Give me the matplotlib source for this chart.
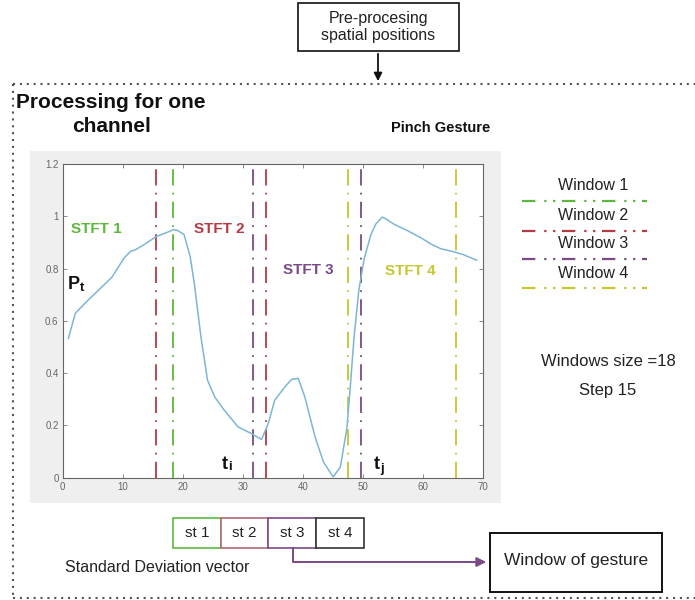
import matplotlib
matplotlib.use("Agg")
import matplotlib.pyplot as plt
from matplotlib.patches import Rectangle

plt.rcParams['font.family'] = ['Liberation Sans', 'DejaVu Sans']

# ---------------- data ----------------
sample_x = [0.95, 2.1, 4.0, 6.3, 8.2, 10.2, 11.3, 12.1, 13.5, 15.6, 17.1, 18.5, 19.1, 20.2,
            21.2, 21.9, 23.0, 24.1, 25.3, 26.9, 29.2, 31.4, 33.1, 34.2, 35.3, 37.0, 38.1,
            39.2, 40.3, 42.0, 43.4, 45.0, 46.2, 47.3, 47.8, 48.5, 49.3, 50.2, 51.3, 52.1,
            53.2, 53.8, 55.1, 57.3, 59.6, 61.2, 62.9, 65.1, 66.7, 68.9]
sample_y = [0.533, 0.629, 0.674, 0.725, 0.767, 0.84, 0.866, 0.872, 0.891, 0.923, 0.936, 0.949,
            0.946, 0.930, 0.847, 0.744, 0.54, 0.373, 0.309, 0.258, 0.194, 0.169, 0.146, 0.207,
            0.297, 0.348, 0.376, 0.38, 0.309, 0.156, 0.06, 0.003, 0.04, 0.19, 0.33, 0.54, 0.72,
            0.84, 0.93, 0.97, 0.997, 0.99, 0.97, 0.946, 0.918, 0.895, 0.876, 0.864, 0.853, 0.832]

window_names = ["Window 1", "Window 2", "Window 3", "Window 4"]
window_start = [0.0, 15.6, 31.6, 47.4]
window_end = [18.4, 33.8, 49.6, 65.5]
window_colors = ["#5cb83c", "#b53a44", "#7a4a86", "#c6c62e"]

stft_labels = ["STFT 1", "STFT 2", "STFT 3", "STFT 4"]
stft_x = [1.3, 21.8, 36.6, 53.6]
stft_y = [0.95, 0.95, 0.795, 0.79]

st_labels = ["st 1", "st 2", "st 3", "st 4"]
st_edge = ["#5cb83c", "#b06a78", "#7a4a86", "#333333"]

x_ticks = [0, 10, 20, 30, 40, 50, 60, 70]
y_ticks = [0, 0.2, 0.4, 0.6, 0.8, 1.0, 1.2]
y_ticklabels = ["0", "0.2", "0.4", "0.6", "0.8", "1", "1.2"]

# ---------------- figure ----------------
W, H = 695, 600
fig = plt.figure(figsize=(W / 100, H / 100), dpi=100)

bg = fig.add_axes([0, 0, 1, 1], zorder=0)
bg.set_xlim(0, W)
bg.set_ylim(H, 0)
bg.axis('off')

# gray panel
bg.add_patch(Rectangle((30, 151), 471, 352, facecolor="#efefef", edgecolor="none"))

# dotted frame
dot = dict(color="#555555", lw=1.5, linestyle=(0, (1, 2.3)))
bg.plot([13, W], [84, 84], **dot)
bg.plot([13, 13], [84, 598], **dot)
bg.plot([13, W], [598, 598], **dot)

# pre-processing box
bg.add_patch(Rectangle((298, 3), 161, 48, facecolor="white", edgecolor="#111111", lw=1.2))
bg.text(378.5, 27, "Pre-procesing\nspatial positions", ha="center", va="center",
        fontsize=11.5, color="#222222", linespacing=1.1)
bg.annotate("", xy=(378, 84), xytext=(378, 51),
            arrowprops=dict(arrowstyle="-|>", color="#111111", lw=1.3, mutation_scale=12))

# titles
bg.text(16, 103, "Processing for one", ha="left", va="center", fontsize=15,
        fontweight="bold", color="#111111")
bg.text(112, 126, "channel", ha="center", va="center", fontsize=15,
        fontweight="bold", color="#111111")
bg.text(441, 128, "Pinch Gesture", ha="center", va="center", fontsize=10.5,
        fontweight="bold", color="#111111")

# legend (text above line)
leg_text_y = [185, 215, 244, 273]
leg_line_y = [201, 231, 259, 288]
for name, c, ty, ly in zip(window_names, window_colors, leg_text_y, leg_line_y):
    bg.text(593, ty, name, ha="center", va="center", fontsize=11.5, color="#222222")
    bg.plot([522, 647], [ly, ly], color=c, lw=1.6, linestyle=(0, (6, 4, 1, 3, 1, 3)))

bg.text(608, 362, "Windows size =18", ha="center", va="center", fontsize=12, color="#222222")
bg.text(608, 390, "Step 15", ha="center", va="center", fontsize=12, color="#222222")

# standard deviation vector boxes
box_x = [173, 221, 268, 316]
box_w = [48, 47, 48, 48]
for lab, ec, bx, bw in zip(st_labels, st_edge, box_x, box_w):
    bg.add_patch(Rectangle((bx, 518), bw, 30, facecolor="white", edgecolor=ec, lw=1.2))
    bg.text(bx + bw / 2, 533, lab, ha="center", va="center", fontsize=11, color="#222222")
bg.text(65, 568, "Standard Deviation vector", ha="left", va="center", fontsize=11.5,
        color="#222222")

# arrow to window of gesture
bg.plot([293, 293, 470], [548, 562, 562], color="#7a4a86", lw=1.4)
bg.annotate("", xy=(489, 562), xytext=(465, 562),
            arrowprops=dict(arrowstyle="-|>", color="#7a4a86", lw=1.4, mutation_scale=14))
bg.add_patch(Rectangle((490, 533), 172, 59, facecolor="white", edgecolor="#111111", lw=1.4))
bg.text(576, 561, "Window of gesture", ha="center", va="center", fontsize=12.5, color="#222222")

# ---------------- plot axes ----------------
left, top, right, bottom = 62.7, 164, 483.3, 477.7
ax = fig.add_axes([left / W, 1 - bottom / H, (right - left) / W, (bottom - top) / H], zorder=2)
ax.set_facecolor("white")
ax.set_xlim(0, 70)
ax.set_ylim(0, 1.2)
ax.set_xticks(x_ticks)
ax.set_yticks(y_ticks)
ax.set_yticklabels(y_ticklabels)
ax.tick_params(direction="in", length=3, width=0.6, colors="#777777", labelsize=7,
               top=True, right=True, labelcolor="#666666", pad=3)
for sp in ax.spines.values():
    sp.set_color("#666666")
    sp.set_linewidth(0.8)

for s, e, c in zip(window_start, window_end, window_colors):
    for xv in (s, e):
        ax.axvline(xv, color=c, lw=1.3, linestyle=(0, (9, 4, 1, 4)), zorder=2)

ax.plot(sample_x, sample_y, color="#7db6d4", lw=1.1, zorder=3)

for lab, c, sx, sy in zip(stft_labels, window_colors, stft_x, stft_y):
    ax.text(sx, sy, lab, color=c, fontsize=11, fontweight="bold", ha="left", va="center",
            zorder=4)

# point labels
ax.text(0.9, 0.74, "P", fontsize=13, fontweight="bold", color="#111111", ha="left",
        va="center", zorder=4)
ax.text(2.9, 0.725, "t", fontsize=9.5, fontweight="bold", color="#111111", ha="left",
        va="center", zorder=4)
ax.text(26.4, 0.05, "t", fontsize=13, fontweight="bold", color="#111111", ha="left",
        va="center", zorder=4)
ax.text(27.5, 0.04, "i", fontsize=9.5, fontweight="bold", color="#111111", ha="left",
        va="center", zorder=4)
ax.text(51.8, 0.05, "t", fontsize=13, fontweight="bold", color="#111111", ha="left",
        va="center", zorder=4)
ax.text(52.9, 0.035, "j", fontsize=9.5, fontweight="bold", color="#111111", ha="left",
        va="center", zorder=4)

fig.savefig("out.png", dpi=100)
